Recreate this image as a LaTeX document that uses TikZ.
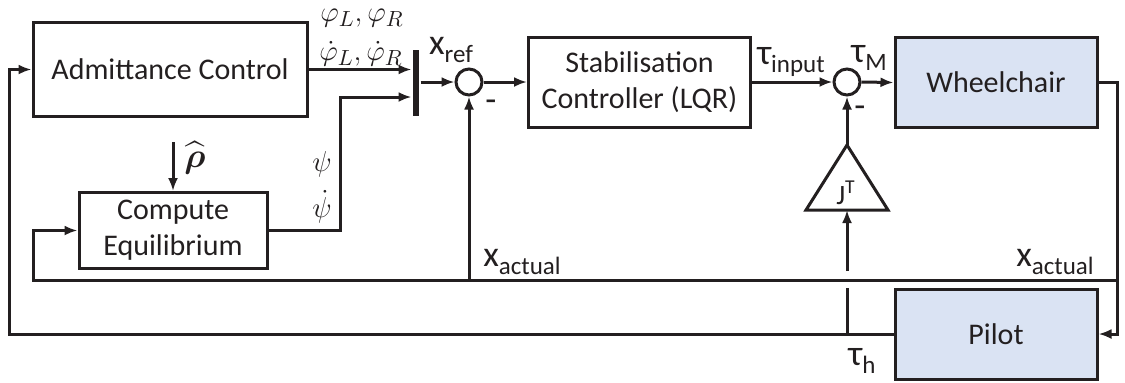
\documentclass[tikz,border=0pt]{standalone}
\usepackage{amsmath}
\usepackage{fontspec}
\setmainfont{Carlito}
\usetikzlibrary{positioning, arrows.meta, calc}
\definecolor{chairblue}{HTML}{DAE3F3}
\definecolor{inkgray}{HTML}{231F20}

% subscript in text font, lowered
\newcommand{\lowtxt}[1]{\raisebox{-0.5ex}{\fontsize{12.5}{13}\selectfont #1}}

\begin{document}
\begin{tikzpicture}[x=0.5pt, y=-0.5pt, line width=1.5pt, color=inkgray,
  block/.style={draw, rectangle, align=center, inner sep=0pt, font=\fontsize{15}{18}\selectfont},
  sumnode/.style={draw, circle, minimum size=13pt, inner sep=0pt},
  sig/.style={-{Latex[length=6.5pt, width=5pt]}},
  lbl/.style={inner sep=0pt, font=\fontsize{18}{20}\selectfont},
  mathlbl/.style={inner sep=0pt, font=\fontsize{15}{18}\selectfont}]
  \useasboundingbox (0,0) rectangle (1125,382);

  % blocks
  \node[block, minimum width=137pt, minimum height=47pt] (adm) at (170,69.5) {Admittance Control};
  \node[block, minimum width=94pt, minimum height=38pt] (ceq) at (173,230.5) {Compute\\Equilibrium};
  \node[block, minimum width=111pt, minimum height=45pt] (stab) at (639.5,82) {Stabilisation\\Controller (LQR)};
  \node[block, fill=chairblue, minimum width=101pt, minimum height=45pt] (wc) at (996,82.5) {Wheelchair};
  \node[block, fill=chairblue, minimum width=101pt, minimum height=45pt] (pilot) at (996,334) {Pilot};
  \node[fill, minimum width=3pt, minimum height=33pt, inner sep=0pt] (mux) at (416,83) {};
  \node[sumnode] (s1) at (469,82) {};
  \node[sumnode] (s2) at (847,82) {};

  % gain J^T
  \coordinate (jtop) at (847,145);
  \coordinate (jbase) at (847,210);
  \draw (jtop) -- (888,210) -- (806,210) -- cycle;
  \node[inner sep=0pt, font=\fontsize{14}{16}\selectfont] (jt) at (846,193) {J\textsuperscript{T}};

  % helper points
  \coordinate (psk) at (340,97);
  \coordinate (wcr) at (1117,0);
  \coordinate (fbr) at (1117,280);
  \coordinate (fbl) at (33,280);
  \coordinate (outl) at (9,334);
  \coordinate (rhoin) at (173,142);

  % forward path
  \draw[sig] (adm.east) -- (adm.east -| mux.west);
  \draw[sig] (ceq.east) -| (psk) -- (psk -| mux.west);
  \draw[sig] (s1 -| mux.east) -- (s1.west);
  \draw[sig] (s1.east) -- (stab.west);
  \draw[sig] (stab.east) -- (s2.west);
  \draw[sig] (s2.east) -- (wc.west);
  \draw[sig] (wc.east) -| (wcr |- pilot.east) -- (pilot.east);

  % feedback
  \draw[sig] (fbr) -- (fbl) |- (ceq.west);
  \draw[sig] (s1 |- fbl) -- (s1.south);
  \draw[sig] (pilot.west) -- (outl) |- (adm.west);
  \draw (jbase |- pilot.west) -- (847,288);
  \draw[sig] (847,271) -- (jbase);
  \draw[sig] (jtop) -- (s2.south);
  \draw[sig] (rhoin) -- (ceq.north);

  % labels
  \node[mathlbl] (phi) at (362,18) {$\varphi_L, \varphi_R$};
  \node[mathlbl] (dphi) at (361,54) {$\dot\varphi_L, \dot\varphi_R$};
  \node[mathlbl] (psi) at (322,164) {$\psi$};
  \node[mathlbl] (dpsi) at (322,207) {$\dot\psi$};
  \node[inner sep=0pt, font=\fontsize{17}{20}\selectfont] (rho) at (195,158) {$\widehat{\boldsymbol{\rho}}$};
  \node[lbl] (xref) at (451,50) {x\lowtxt{ref}};
  \node[lbl] (tin) at (791,62) {τ\lowtxt{input}};
  \node[lbl] (tm) at (869,58) {τ\lowtxt{M}};
  \node[lbl] (xa1) at (522,262) {x\lowtxt{actual}};
  \node[lbl] (xa2) at (1055,262) {x\lowtxt{actual}};
  \node[lbl] (th) at (862,361) {τ\lowtxt{h}};
  \node[lbl] (m1) at (491,106) {-};
  \node[lbl] (m2) at (860,112) {-};
\end{tikzpicture}
\end{document}
